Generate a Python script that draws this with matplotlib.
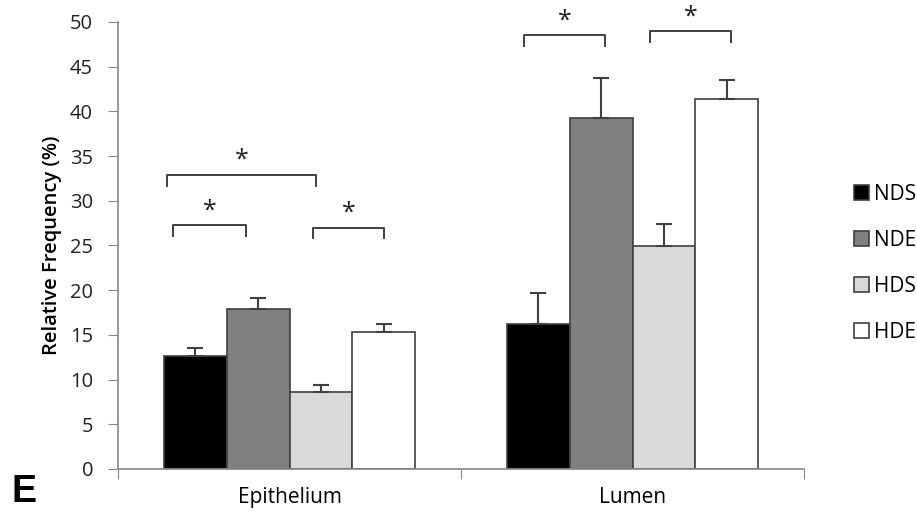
import matplotlib.pyplot as plt
import numpy as np

plt.rcParams["font.family"] = ["Open Sans", "DejaVu Sans"]

# データ
groups = ["Epithelium", "Lumen"]
series = ["NDS", "NDE", "HDS", "HDE"]
colors = ["#000000", "#808080", "#d9d9d9", "#ffffff"]
values = {
    "NDS": [12.6, 16.2],
    "NDE": [17.9, 39.3],
    "HDS": [8.6, 24.9],
    "HDE": [15.3, 41.4],
}
errors = {
    "NDS": [0.9, 3.5],
    "NDE": [1.2, 4.4],
    "HDS": [0.8, 2.5],
    "HDE": [0.9, 2.1],
}

# 有意差ブラケット: (x左, x右, 高さ)
brackets = [
    (-0.357, 0.077, 32.9),
    (-0.340, -0.127, 27.3),
    (0.069, 0.275, 27.0),
    (0.684, 0.920, 48.5),
    (1.051, 1.287, 49.0),
]

fig = plt.figure(figsize=(9.17, 5.16), dpi=100)
ax = fig.add_axes([0.1287, 0.0911, 0.7481, 0.8663])

x = np.arange(len(groups))
w = 0.183
offsets = (np.arange(len(series)) - 1.5) * w
for i, s in enumerate(series):
    ax.bar(x + offsets[i], values[s], w, color=colors[i], edgecolor="#404040",
           linewidth=1.2, label=s, zorder=2)
    ax.errorbar(x + offsets[i], values[s], yerr=[np.zeros(len(groups)), errors[s]],
                fmt="none", ecolor="#404040", elinewidth=1.5, capsize=6,
                capthick=1.5, zorder=3)

for x0, x1, h in brackets:
    ax.plot([x0, x0, x1, x1], [h - 1.2, h, h, h - 1.2], color="#404040", lw=1.4,
            clip_on=False)
    ax.text((x0 + x1) / 2, h + 0.2, "*", ha="center", va="bottom", fontsize=18,
            color="#222222", clip_on=False)

ax.set_xlim(-0.5, 1.5)
ax.set_ylim(0, 50)
ax.set_yticks(np.arange(0, 51, 5))
ax.set_xticks([-0.5, 0.5, 1.5], minor=False)
ax.set_xticklabels([])
ax.set_xticks(x, minor=True)
ax.set_xticklabels(groups, minor=True, fontsize=15)
ax.tick_params(axis="x", which="minor", length=0, pad=13)
ax.tick_params(axis="x", which="major", length=7, color="#888888", direction="out")
ax.tick_params(axis="y", length=7, color="#888888", labelsize=14.5, pad=11,
               labelcolor="#222222")

for side in ["top", "right"]:
    ax.spines[side].set_visible(False)
for side in ["left", "bottom"]:
    ax.spines[side].set_color("#888888")
    ax.spines[side].set_linewidth(1.2)

ax.set_ylabel("Relative Frequency (%)", fontsize=14.5, fontweight="semibold", labelpad=6)

leg = ax.legend(loc="center left", bbox_to_anchor=(1.045, 0.46), frameon=False,
                fontsize=15, handlelength=0.75, handleheight=0.75, handletextpad=0.25,
                labelspacing=1.2)

fig.text(0.013, 0.027, "E", fontsize=27, fontweight="bold",
         family=["Liberation Sans", "DejaVu Sans"], ha="left", va="baseline")

fig.savefig("out.png", dpi=100)
